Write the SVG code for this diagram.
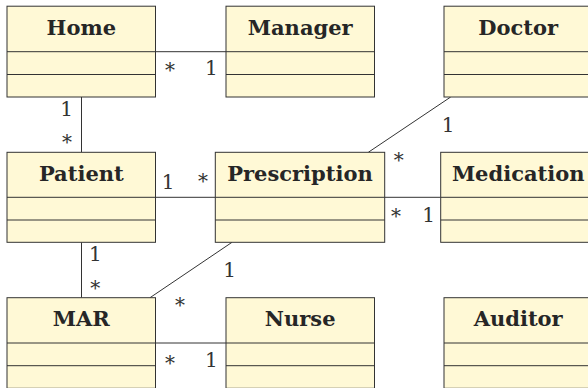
<svg xmlns="http://www.w3.org/2000/svg" width="588" height="388" viewBox="0 0 588 388">
  <style>
    .box { fill: #FFF9D6; stroke: #333333; stroke-width: 1; }
    .div { stroke: #333333; stroke-width: 1; }
    .name { font-family: "DejaVu Serif", "Liberation Serif", serif; font-weight: bold; font-size: 21px; fill: #262626; text-anchor: middle; }
    .edge { stroke: #333333; stroke-width: 1; fill: none; }
    .mult { font-family: "DejaVu Serif", "Liberation Serif", serif; font-size: 20px; fill: #333333; text-anchor: middle; }
  </style>
  <rect width="588" height="388" fill="#FFFFFF"/>

  <!-- associations -->
  <g id="connectors">
    <line class="edge" x1="155.5" y1="51.7" x2="226" y2="51.7"/>
    <line class="edge" x1="81.5" y1="97" x2="81.5" y2="152.3"/>
    <line class="edge" x1="155.5" y1="197.3" x2="215.3" y2="197.3"/>
    <line class="edge" x1="384.7" y1="197.3" x2="440.7" y2="197.3"/>
    <line class="edge" x1="450.7" y1="97" x2="368.3" y2="152.3"/>
    <line class="edge" x1="232" y1="242.3" x2="150" y2="297.7"/>
    <line class="edge" x1="81.5" y1="242.3" x2="81.5" y2="297.7"/>
    <line class="edge" x1="155.5" y1="343" x2="226" y2="343"/>

    <text class="mult" x="170" y="77.2">*</text>
    <text class="mult" x="211.3" y="75">1</text>
    <text class="mult" x="66.7" y="116">1</text>
    <text class="mult" x="67" y="149.2">*</text>
    <text class="mult" x="168" y="189.3">1</text>
    <text class="mult" x="203" y="187.7">*</text>
    <text class="mult" x="396" y="222.7">*</text>
    <text class="mult" x="428.7" y="221.7">1</text>
    <text class="mult" x="448" y="132.3">1</text>
    <text class="mult" x="398.7" y="166.7">*</text>
    <text class="mult" x="229.5" y="277.3">1</text>
    <text class="mult" x="180" y="312.2">*</text>
    <text class="mult" x="95.3" y="260.7">1</text>
    <text class="mult" x="95.3" y="294.7">*</text>
    <text class="mult" x="170" y="369.7">*</text>
    <text class="mult" x="211.3" y="367.3">1</text>
  </g>

  <!-- classes: header, attributes, operations -->
  <g id="home">
    <rect class="box" x="7" y="6.2" width="148.5" height="90.8"/>
    <line class="div" x1="7" y1="51.7" x2="155.5" y2="51.7"/>
    <line class="div" x1="7" y1="74.5" x2="155.5" y2="74.5"/>
    <text class="name" x="81.3" y="35">Home</text>
  </g>
  <g id="manager">
    <rect class="box" x="226" y="6.2" width="148.5" height="90.8"/>
    <line class="div" x1="226" y1="51.7" x2="374.5" y2="51.7"/>
    <line class="div" x1="226" y1="74.5" x2="374.5" y2="74.5"/>
    <text class="name" x="300.2" y="35">Manager</text>
  </g>
  <g id="doctor">
    <rect class="box" x="444" y="6.2" width="148.5" height="90.8"/>
    <line class="div" x1="444" y1="51.7" x2="592.5" y2="51.7"/>
    <line class="div" x1="444" y1="74.5" x2="592.5" y2="74.5"/>
    <text class="name" x="518.2" y="35">Doctor</text>
  </g>
  <g id="patient">
    <rect class="box" x="7" y="152.3" width="148.5" height="90"/>
    <line class="div" x1="7" y1="197.3" x2="155.5" y2="197.3"/>
    <line class="div" x1="7" y1="220" x2="155.5" y2="220"/>
    <text class="name" x="81.3" y="181">Patient</text>
  </g>
  <g id="prescription">
    <rect class="box" x="215.3" y="152.3" width="169.4" height="90"/>
    <line class="div" x1="215.3" y1="197.3" x2="384.7" y2="197.3"/>
    <line class="div" x1="215.3" y1="220" x2="384.7" y2="220"/>
    <text class="name" x="300" y="181">Prescription</text>
  </g>
  <g id="medication">
    <rect class="box" x="440.7" y="152.3" width="155" height="90"/>
    <line class="div" x1="440.7" y1="197.3" x2="595.7" y2="197.3"/>
    <line class="div" x1="440.7" y1="220" x2="595.7" y2="220"/>
    <text class="name" x="518.2" y="181">Medication</text>
  </g>
  <g id="mar">
    <rect class="box" x="7" y="297.7" width="148.5" height="90.6"/>
    <line class="div" x1="7" y1="343" x2="155.5" y2="343"/>
    <line class="div" x1="7" y1="365.7" x2="155.5" y2="365.7"/>
    <text class="name" x="81.3" y="325.7">MAR</text>
  </g>
  <g id="nurse">
    <rect class="box" x="226" y="297.7" width="148.5" height="90.6"/>
    <line class="div" x1="226" y1="343" x2="374.5" y2="343"/>
    <line class="div" x1="226" y1="365.7" x2="374.5" y2="365.7"/>
    <text class="name" x="300.2" y="325.7">Nurse</text>
  </g>
  <g id="auditor">
    <rect class="box" x="444" y="297.7" width="148.5" height="90.6"/>
    <line class="div" x1="444" y1="343" x2="592.5" y2="343"/>
    <line class="div" x1="444" y1="365.7" x2="592.5" y2="365.7"/>
    <text class="name" x="518.2" y="325.7">Auditor</text>
  </g>
</svg>
